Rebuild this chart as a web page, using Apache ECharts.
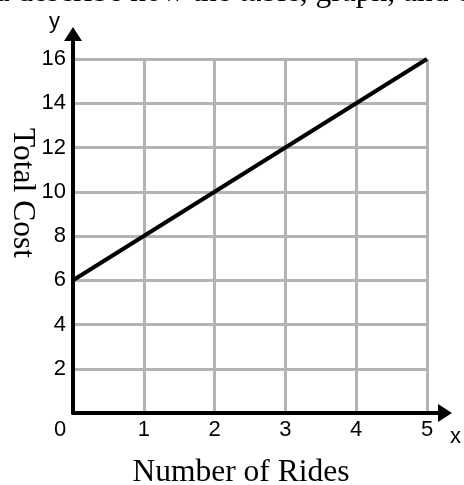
<!DOCTYPE html>
<html>
<head>
<meta charset="utf-8">
<script src="https://cdn.jsdelivr.net/npm/echarts@6/dist/echarts.min.js"></script>
<style>
  html, body { margin: 0; padding: 0; background: #fff; }
  #chart { width: 464px; height: 485px; }
</style>
</head>
<body>
<div id="chart"></div>
<script>
const rides = [0, 1, 2, 3, 4, 5]
const cost = [6, 8, 10, 12, 14, 16]
const xTicks = [0, 1, 2, 3, 4, 5]
const yTicks = [0, 2, 4, 6, 8, 10, 12, 14, 16]

const tickFont = 'Liberation Sans, Arial, sans-serif'
const titleFont = 'Liberation Serif, Times New Roman, serif'
const gridGray = '#b3b3b3'

const chart = echarts.init(document.getElementById('chart'))

const points = rides.map((x, i) => [x, cost[i]])

const options = {
  animation: false,
  grid: [
    // grid with the squares
    {left: 73, top: 59, right: 37, bottom: 72},
    // only for the axis arrows
    {left: 73, top: 34, right: 4, bottom: 72}
  ],
  xAxis: [{
    type: 'value',
    gridIndex: 0,
    min: xTicks[0],
    max: xTicks[xTicks.length - 1],
    interval: 1,
    axisLine: {show: false},
    axisTick: {show: false},
    splitLine: {lineStyle: {color: gridGray, width: 3}},
    axisLabel: {
      margin: 6,
      color: '#000',
      fontFamily: tickFont,
      fontSize: 22,
      formatter: function (v) { return v === 0 ? '{o|0}' : String(v) },
      rich: {o: {padding: [0, 26, 0, 0], fontFamily: tickFont, fontSize: 22, color: '#000'}}
    }
  }, {
    type: 'value',
    gridIndex: 1,
    min: 0,
    max: 1,
    name: 'x',
    nameLocation: 'end',
    nameGap: 5,
    nameTextStyle: {fontFamily: tickFont, fontSize: 22, color: '#000', align: 'left', verticalAlign: 'top', lineHeight: 48},
    axisLine: {lineStyle: {color: '#000', width: 4}, symbol: ['none', 'triangle'], symbolSize: [18, 14]},
    axisTick: {show: false},
    axisLabel: {show: false},
    splitLine: {show: false}
  }],
  yAxis: [{
    type: 'value',
    gridIndex: 0,
    min: yTicks[0],
    max: yTicks[yTicks.length - 1],
    interval: 2,
    axisLine: {show: false},
    axisTick: {show: false},
    splitLine: {lineStyle: {color: gridGray, width: 3}},
    axisLabel: {
      margin: 7,
      color: '#000',
      fontFamily: tickFont,
      fontSize: 22,
      formatter: function (v) { return v === 0 ? '' : String(v) }
    }
  }, {
    type: 'value',
    gridIndex: 1,
    min: 0,
    max: 1,
    name: 'y',
    nameLocation: 'end',
    nameGap: 1,
    nameTextStyle: {fontFamily: tickFont, fontSize: 22, color: '#000', align: 'right', verticalAlign: 'bottom', padding: [0, 13, 0, 0]},
    axisLine: {lineStyle: {color: '#000', width: 4}, symbol: ['none', 'triangle'], symbolSize: [18, 14]},
    axisTick: {show: false},
    axisLabel: {show: false},
    splitLine: {show: false}
  }],
  graphic: [{
    // line of the question text cut off at the top
    type: 'text',
    left: -36,
    top: -23,
    style: {text: 'and describe how the table, graph, and equation', font: '31.5px ' + titleFont, fill: '#000'}
  }, {
    type: 'text',
    x: 22,
    y: 193,
    rotation: -Math.PI / 2,
    style: {text: 'Total Cost', font: '31.5px ' + titleFont, fill: '#000', align: 'center', verticalAlign: 'middle'}
  }, {
    type: 'text',
    x: 241,
    y: 473,
    style: {text: 'Number of Rides', font: '31.5px ' + titleFont, fill: '#000', align: 'center', verticalAlign: 'middle'}
  }],
  series: [{
    type: 'line',
    xAxisIndex: 0,
    yAxisIndex: 0,
    data: points,
    showSymbol: false,
    symbol: 'none',
    lineStyle: {color: '#000', width: 4},
    z: 5
  }]
}

chart.setOption(options)
</script>
</body>
</html>
